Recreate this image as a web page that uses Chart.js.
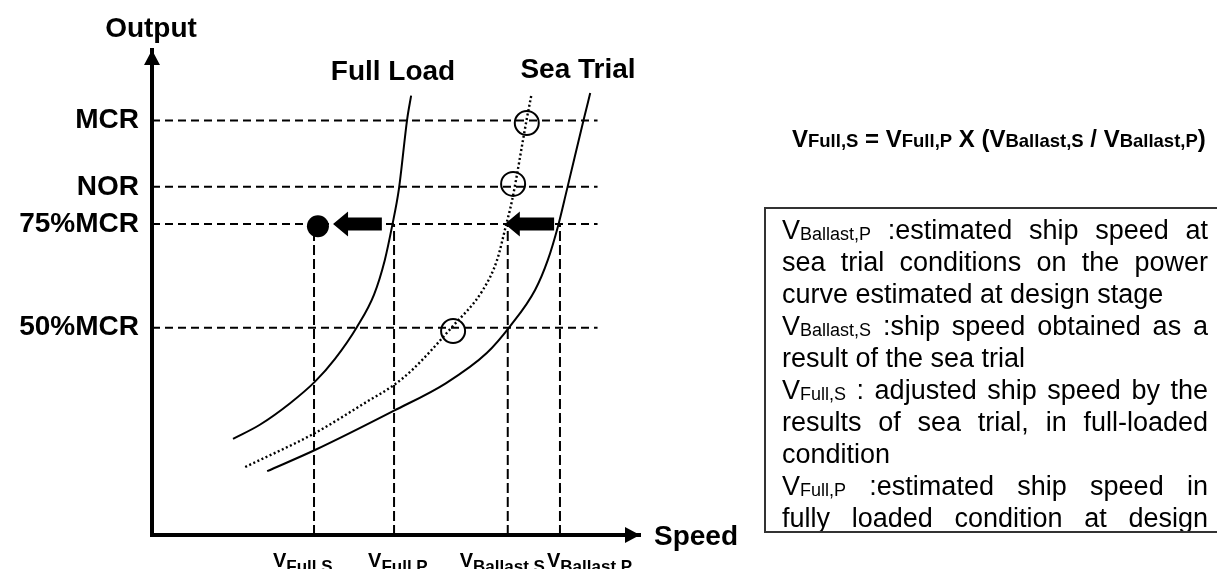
<!DOCTYPE html>
<html>
<head>
<meta charset="utf-8">
<title>Speed / Output</title>
<script src="https://cdn.jsdelivr.net/npm/chart.js@4.4.0/dist/chart.umd.min.js"></script>
<style>
    html, body { margin: 0; padding: 0; background: #fff; }
    body { width: 1217px; height: 569px; position: relative; overflow: hidden; font-family: "Liberation Sans", Arial, sans-serif; color: #000; }
    #c { position: absolute; left: 0; top: 0; }
    #formula { position: absolute; left: 792px; top: 126px; font-weight: bold; font-size: 24px; line-height: 26px; white-space: nowrap; }
    #formula .s { font-size: 18.5px; }
    #note { position: absolute; left: 764px; top: 207px; width: 480px; height: 326px; box-sizing: border-box;
            border: 2px solid #333; padding: 5px 0 0 16px; overflow: hidden; font-size: 27px; line-height: 32px; }
    #note div { width: 426px; height: 32px; white-space: nowrap; overflow: visible; }
    #note .j { text-align: justify; text-align-last: justify; white-space: normal; }
    #note .s { font-size: 18px; line-height: 18px; vertical-align: -1px; }
</style>
</head>
<body>
<canvas id="c" width="1217" height="569"></canvas>

<div id="formula">V<span class="s">Full,S</span> = V<span class="s">Full,P</span> X (V<span class="s">Ballast,S</span> / V<span class="s">Ballast,P</span>)</div>

<div id="note">
    <div class="j">V<span class="s">Ballast,P</span> :estimated ship speed at</div>
    <div class="j">sea trial conditions on the power</div>
    <div>curve estimated at design stage</div>
    <div class="j">V<span class="s">Ballast,S</span> :ship speed obtained as a</div>
    <div>result of the sea trial</div>
    <div class="j">V<span class="s">Full,S</span> : adjusted ship speed by the</div>
    <div class="j">results of sea trial, in full-loaded</div>
    <div>condition</div>
    <div class="j">V<span class="s">Full,P</span> :estimated ship speed in</div>
    <div class="j">fully loaded condition at design</div>
</div>

<script>
// output levels (% MCR) and their names
const outputTicks = [50, 75, 84, 100];
const outputLabels = ['50%MCR', '75%MCR', 'NOR', 'MCR'];

// speeds marked on the speed axis
const speedTicks = [33.2, 49.6, 72.9, 83.6];
const speedNames = ['Full,S', 'Full,P', 'Ballast,S', 'Ballast,P'];

// power curves
const fullLoadSpeed  = [16.6, 22.1, 28.3, 33.4, 37.5, 42.0, 45.5, 47.7, 49.2, 50.6, 52.3, 53.1];
const fullLoadOutput = [23.2, 26.6, 31.8, 37.0, 42.5, 50.2, 58.0, 66.3, 74.5, 83.5, 100.4, 106.0];

const seaTrialSpeed  = [19.1, 33.4, 44.1, 49.6, 53.3, 61.5, 67.8, 70.7, 72.5, 73.8, 76.8, 77.7];
const seaTrialOutput = [16.4, 24.6, 32.2, 36.2, 39.8, 50.2, 59.1, 66.3, 74.5, 80.8, 100.4, 105.9];

const ballastSpeed   = [23.6, 33.4, 49.6, 60.2, 68.6, 73.4, 78.5, 81.1, 83.2, 85.0, 88.5, 89.8];
const ballastOutput  = [15.4, 20.5, 30.0, 36.6, 43.9, 50.4, 59.1, 66.3, 74.5, 83.2, 100.4, 106.6];

// sea trial measurements (open circles) and the corrected point
const trialSpeed  = [61.7, 74.0, 76.8];
const trialOutput = [49.2, 84.7, 99.4];
const correctedSpeed  = [34.0];
const correctedOutput = [74.5];

// correction arrows at 75% MCR
const arrowFrom = [47.1, 82.4];
const arrowTo   = [37.1, 72.3];
const arrowLevel = 75;

const refLineEnd = 91.3;

const FONT = '"Liberation Sans", Arial, sans-serif';

const toPoints = (xs, ys) => xs.map((x, i) => ({x: x, y: ys[i]}));

const curve = (xs, ys, dash, width) => ({
    data: toPoints(xs, ys),
    showLine: true,
    borderColor: '#000',
    borderWidth: width || 2,
    borderDash: dash || [],
    borderCapStyle: 'butt',
    pointRadius: 0,
    cubicInterpolationMode: 'monotone',
    fill: false
});

const hLines = outputTicks.map(v => ({
    data: [{x: 0, y: v}, {x: refLineEnd, y: v}],
    showLine: true, borderColor: '#000', borderWidth: 2, borderDash: [8, 5],
    pointRadius: 0
}));

const vLines = speedTicks.map(s => ({
    data: [{x: s, y: 0}, {x: s, y: arrowLevel}],
    showLine: true, borderColor: '#000', borderWidth: 2, borderDash: [10, 4],
    pointRadius: 0
}));

const extras = {
    id: 'extras',
    afterDatasetsDraw(chart) {
        const ctx = chart.ctx;
        const xs = chart.scales.x, ys = chart.scales.y;
        const a = chart.chartArea;
        ctx.save();
        ctx.fillStyle = '#000';

        // axis arrow heads
        ctx.beginPath();
        ctx.moveTo(a.left, a.top);
        ctx.lineTo(a.left - 8, a.top + 15);
        ctx.lineTo(a.left + 8, a.top + 15);
        ctx.closePath();
        ctx.fill();
        ctx.beginPath();
        ctx.moveTo(a.right, a.bottom);
        ctx.lineTo(a.right - 15, a.bottom - 8);
        ctx.lineTo(a.right - 15, a.bottom + 8);
        ctx.closePath();
        ctx.fill();

        // block arrows
        const y = ys.getPixelForValue(arrowLevel);
        for (let i = 0; i < arrowFrom.length; i++) {
            const x1 = xs.getPixelForValue(arrowFrom[i]);
            const x0 = xs.getPixelForValue(arrowTo[i]);
            ctx.beginPath();
            ctx.moveTo(x0, y);
            ctx.lineTo(x0 + 15, y - 12.5);
            ctx.lineTo(x0 + 15, y - 6.5);
            ctx.lineTo(x1, y - 6.5);
            ctx.lineTo(x1, y + 6.5);
            ctx.lineTo(x0 + 15, y + 6.5);
            ctx.lineTo(x0 + 15, y + 12.5);
            ctx.closePath();
            ctx.fill();
        }

        // titles
        ctx.font = 'bold 28px ' + FONT;
        ctx.textBaseline = 'alphabetic';
        ctx.textAlign = 'center';
        ctx.fillText('Output', a.left - 1, 37);
        ctx.fillText('Full Load', 393, 80);
        ctx.fillText('Sea Trial', 578, 78);
        ctx.textAlign = 'left';
        ctx.fillText('Speed', a.right + 14, a.bottom + 10);

        // speed labels with subscripts
        const offs = [-41, -26, -48, -13];
        for (let i = 0; i < speedTicks.length; i++) {
            let x = xs.getPixelForValue(speedTicks[i]) + offs[i];
            ctx.font = 'bold 20px ' + FONT;
            ctx.fillText('V', x, a.bottom + 32);
            x += ctx.measureText('V').width;
            ctx.font = 'bold 17px ' + FONT;
            ctx.fillText(speedNames[i], x, a.bottom + 37);
        }
        ctx.restore();
    }
};

new Chart(document.getElementById('c'), {
    type: 'scatter',
    data: {
        datasets: [
            ...hLines,
            ...vLines,
            curve(fullLoadSpeed, fullLoadOutput),
            curve(seaTrialSpeed, seaTrialOutput, [2, 2.5], 2.4),
            curve(ballastSpeed, ballastOutput),
            {
                data: toPoints(trialSpeed, trialOutput),
                pointRadius: 12, pointStyle: 'circle',
                pointBorderWidth: 2, pointBorderColor: '#000',
                pointBackgroundColor: 'rgba(0,0,0,0)'
            },
            {
                data: toPoints(correctedSpeed, correctedOutput),
                pointRadius: 11, pointStyle: 'circle',
                pointBorderWidth: 0, pointBackgroundColor: '#000'
            }
        ]
    },
    options: {
        responsive: false,
        animation: false,
        devicePixelRatio: 1,
        events: [],
        layout: { padding: { top: 50, right: 577, left: 0, bottom: 0 } },
        plugins: { legend: { display: false }, tooltip: { enabled: false } },
        scales: {
            x: {
                type: 'linear', min: 0, max: 100,
                afterFit: s => { s.height = 34; },
                grid: { display: false, drawTicks: false },
                border: { display: true, width: 4, color: '#000' },
                ticks: { display: false }
            },
            y: {
                type: 'linear', min: 0, max: 117,
                afterFit: s => { s.width = 152; },
                afterBuildTicks: s => { s.ticks = outputTicks.map(v => ({value: v})); },
                grid: { display: false, drawTicks: false },
                border: { display: true, width: 4, color: '#000' },
                ticks: {
                    autoSkip: false,
                    padding: 13,
                    color: '#000',
                    font: { family: FONT, size: 28, weight: 'bold' },
                    callback: v => outputLabels[outputTicks.indexOf(v)]
                }
            }
        }
    },
    plugins: [extras]
});
</script>
</body>
</html>
